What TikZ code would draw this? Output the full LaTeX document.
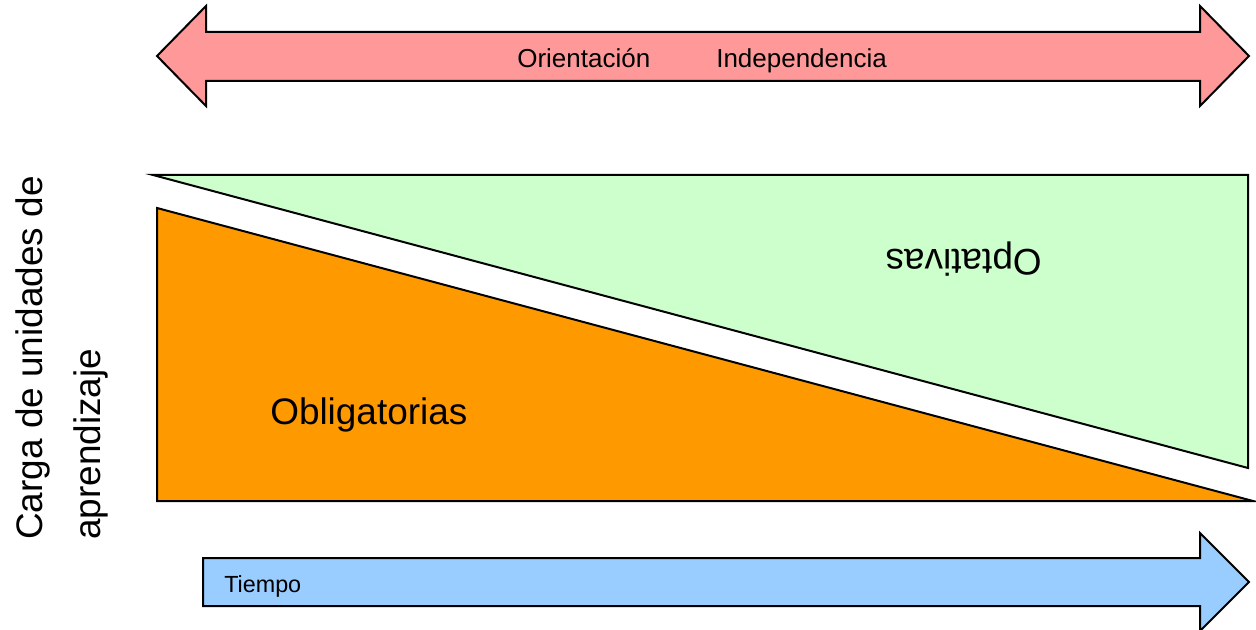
\documentclass[tikz,border=0pt]{standalone}
\usepackage{fontspec}
\setmainfont{Liberation Sans}
\definecolor{pinkarrow}{HTML}{FF9999}
\definecolor{greentri}{HTML}{CCFFCC}
\definecolor{orangetri}{HTML}{FF9900}
\definecolor{bluearrow}{HTML}{99CCFF}
\begin{document}
\begin{tikzpicture}[x=0.75pt,y=-0.75pt,
  outline/.style={draw=black,line width=1.5pt,line join=miter},
  lbl/.style={inner sep=0pt,anchor=base west},
  smalltxt/.style={font=\fontsize{19.5pt}{23pt}\selectfont},
  bigtxt/.style={font=\fontsize{27.7pt}{32pt}\selectfont},
  tinytxt/.style={font=\fontsize{17.5pt}{21pt}\selectfont}]
\useasboundingbox (0,0) rectangle (1256,630);
% top double arrow
\draw[outline,fill=pinkarrow] (157,56) -- (206,6) -- (206,32) -- (1200,32) -- (1200,6) -- (1249,56)
  -- (1200,106) -- (1200,81) -- (206,81) -- (206,106) -- cycle;
\node[lbl,smalltxt] (ori) at (517,68) {Orientación};
\node[lbl,smalltxt] (ind) at (716,68) {Independencia};
% green triangle
\draw[outline,fill=greentri] (153,175) -- (1248,175) -- (1248,468) -- cycle;
% orange triangle
\draw[outline,fill=orangetri] (157,208) -- (157,501) -- (1253,501) -- cycle;
\node[lbl,bigtxt] (obl) at (270,425) {Obligatorias};
\node[lbl,bigtxt,rotate=180] (opt) at (1042,250) {Optativas};
% bottom arrow
\draw[outline,fill=bluearrow] (203,558) -- (1200,558) -- (1200,533) -- (1249,582) -- (1200,631)
  -- (1200,606) -- (203,606) -- cycle;
\node[lbl,tinytxt] (tie) at (224,592) {Tiempo};
% left axis label
\node[lbl,bigtxt,rotate=90] (car1) at (42,540) {Carga de unidades de};
\node[lbl,bigtxt,rotate=90] (car2) at (100,540) {aprendizaje};
\end{tikzpicture}
\end{document}
